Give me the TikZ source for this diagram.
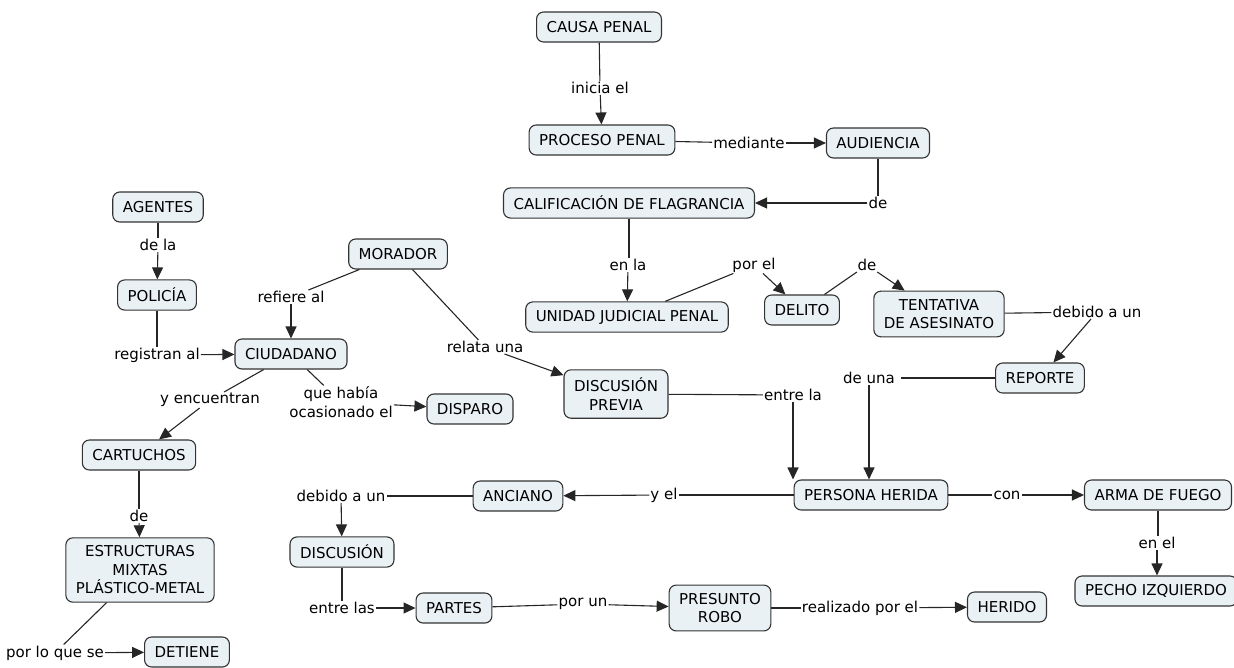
\documentclass[tikz,border=0pt]{standalone}
\usepackage{fontspec}
\setmainfont{DejaVu Sans}
\usetikzlibrary{arrows.meta}
\tikzset{>={Triangle[length=12pt, width=11pt]}}
\definecolor{conceptfill}{HTML}{EAF1F5}
\tikzset{
    concept/.style={draw=black!80, fill=conceptfill, line width=1.1pt, rounded corners=7pt,
        inner xsep=10pt, inner ysep=8pt, minimum height=30pt, align=center},
    phrase/.style={inner sep=1pt},
    link/.style={line width=1.1pt, draw=black!85}
}

\begin{document}
\begin{tikzpicture}[x=1pt, y=-1pt, font=\fontsize{15}{18.5}\selectfont]
    \useasboundingbox(0, 0)rectangle(1234, 667);
    % conceptos
    \node[concept](causa) at (599, 27){CAUSA PENAL};
    \node[concept](proceso) at (602, 140){PROCESO PENAL};
    \node[concept](audiencia) at (878, 143){AUDIENCIA};
    \node[concept](calif) at (629, 203){CALIFICACIÓN DE FLAGRANCIA};
    \node[concept](unidad) at (627, 317){UNIDAD JUDICIAL PENAL};
    \node[concept](delito) at (802, 310){DELITO};
    \node[concept](tentativa) at (939, 314){TENTATIVA\\DE ASESINATO};
    \node[concept](reporte) at (1040, 378){REPORTE};
    \node[concept](morador) at (398, 254){MORADOR};
    \node[concept](agentes) at (158, 207){AGENTES};
    \node[concept](policia) at (157, 295){POLICÍA};
    \node[concept](ciudadano) at (291, 354){CIUDADANO};
    \node[concept](disparo) at (470, 409){DISPARO};
    \node[concept](cartuchos) at (139, 455){CARTUCHOS};
    \node[concept](estructuras) at (140, 570){ESTRUCTURAS\\MIXTAS\\PLÁSTICO-METAL};
    \node[concept](detiene) at (187, 652){DETIENE};
    \node[concept](dprevia) at (616, 394){DISCUSIÓN\\PREVIA};
    \node[concept](persona) at (871, 495){PERSONA HERIDA};
    \node[concept](anciano) at (518, 496){ANCIANO};
    \node[concept](arma) at (1158, 495){ARMA DE FUEGO};
    \node[concept](pecho) at (1156, 591){PECHO IZQUIERDO};
    \node[concept](discusion) at (342, 552){DISCUSIÓN};
    \node[concept](partes) at (454, 608){PARTES};
    \node[concept](presunto) at (720, 608){PRESUNTO\\ROBO};
    \node[concept](herido) at (1007, 607){HERIDO};
    % frases de enlace
    \node[phrase](inicia) at (600, 88){inicia el};
    \node[phrase](mediante) at (749, 143){mediante};
    \node[phrase](deaud) at (878, 203){de};
    \node[phrase](enla) at (628, 265){en la};
    \node[phrase](porel) at (754, 265){por el};
    \node[phrase](dedel) at (867, 265){de};
    \node[phrase](debidorep) at (1097, 312){debido a un};
    \node[phrase, inner xsep=6pt](deuna) at (869, 378){de una};
    \node[phrase](entrela) at (793, 395){entre la};
    \node[phrase](relata) at (485, 347){relata una};
    \node[phrase](refiere) at (291, 297){refiere al};
    \node[phrase](dela) at (158, 245){de la};
    \node[phrase](registran) at (157, 355){registran al};
    \node[phrase](encuentran) at (210, 400){y encuentran};
    \node[phrase, align=center](ocasionado) at (341, 402){que había\\ocasionado el};
    \node[phrase](decar) at (139, 516){de};
    \node[phrase](porloque) at (55, 653){por lo que se};
    \node[phrase](yel) at (664, 495){y el};
    \node[phrase](con) at (1007, 495){con};
    \node[phrase](enel) at (1157, 543){en el};
    \node[phrase](debidodis) at (341, 496){debido a un};
    \node[phrase](entrelas) at (342, 608){entre las};
    \node[phrase](porun) at (583, 604){por un};
    \node[phrase](realizado) at (860, 608){realizado por el};
    % conectores
    \draw[link](causa)--(inicia);
    \draw[link, ->](inicia)--(proceso);
    \draw[link](proceso)--(mediante);
    \draw[link, ->](mediante)--(audiencia);
    \draw[link](audiencia)--(deaud);
    \draw[link, ->](deaud)--(calif);
    \draw[link](calif)--(calif |- enla.north);
    \draw[link, ->](enla)--(unidad);
    \draw[link](unidad)--(porel);
    \draw[link, ->](porel)--(delito);
    \draw[link](delito)--(dedel);
    \draw[link, ->](dedel)--(tentativa);
    \draw[link](tentativa)--(debidorep);
    \draw[link, ->](debidorep)--(reporte);
    \draw[link](reporte)--(deuna);
    \draw[link, ->](deuna)--(deuna |- persona.north);
    \draw[link](dprevia)--(entrela);
    \draw[link, ->](entrela)--(entrela |- persona.north);
    \draw[link](morador)--(relata);
    \draw[link, ->](relata)--(dprevia);
    \draw[link](morador)--(refiere);
    \draw[link, ->](refiere)--(ciudadano);
    \draw[link](agentes)--(dela);
    \draw[link, ->](dela)--(policia);
    \draw[link](policia)--(registran);
    \draw[link, ->](registran)--(ciudadano);
    \draw[link](ciudadano)--(encuentran);
    \draw[link, ->](encuentran)--(cartuchos);
    \draw[link](ciudadano)--(ocasionado);
    \draw[link, ->](ocasionado)--(disparo);
    \draw[link](cartuchos)--(decar);
    \draw[link, ->](decar)--(estructuras);
    \draw[link](estructuras)--(porloque);
    \draw[link, ->](porloque)--(detiene);
    \draw[link](persona)--(yel);
    \draw[link, ->](yel)--(anciano);
    \draw[link](persona)--(con);
    \draw[link, ->](con)--(arma);
    \draw[link](arma)--(arma |- enel.north);
    \draw[link, ->](enel)--(enel |- pecho.north);
    \draw[link](anciano)--(debidodis);
    \draw[link, ->](debidodis)--(discusion);
    \draw[link](discusion)--(entrelas);
    \draw[link, ->](entrelas)--(partes);
    \draw[link](partes)--(porun);
    \draw[link, ->](porun)--(presunto);
    \draw[link](presunto)--(realizado);
    \draw[link, ->](realizado)--(herido);
\end{tikzpicture}
\end{document}
